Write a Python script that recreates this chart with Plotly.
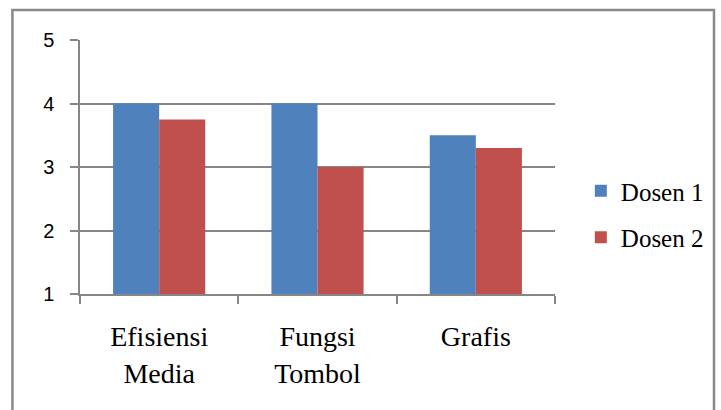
import plotly.graph_objects as go

# Chart data
categories = ["Efisiensi<br>Media", "Fungsi<br>Tombol", "Grafis"]
dosen_1 = [4.0, 4.0, 3.5]
dosen_2 = [3.75, 3.0, 3.3]
y_ticks = [1, 2, 3, 4, 5]

BLUE = "#4F81BD"
RED = "#C0504D"
GREY = "#868686"

fig = go.Figure()
fig.add_trace(go.Bar(name="Dosen 1", x=categories, y=dosen_1, marker_color=BLUE,
                     marker_line_width=0, legendgroup="d1"))
fig.add_trace(go.Bar(name="Dosen 2", x=categories, y=dosen_2, marker_color=RED,
                     marker_line_width=0, legendgroup="d2"))

# plot area spans x 80..558, y 40..294 px
L, R, T, B = 80, 558, 40, 294
W, H = 721, 410

def px_x(x):
    return (x - L) / (R - L)

def px_y(y):
    return (B - y) / (B - T)

fig.update_layout(
    width=W, height=H,
    margin=dict(l=L, r=W - R, t=T, b=H - B, pad=0),
    paper_bgcolor="white", plot_bgcolor="white",
    barmode="group", bargap=0.418, bargroupgap=0,
    showlegend=True,
    legend=dict(
        x=px_x(584), y=px_y(168), xanchor="left", yanchor="top",
        font=dict(family="Liberation Serif", size=25, color="black"),
        traceorder="grouped", tracegroupgap=11,
        bgcolor="rgba(0,0,0,0)", borderwidth=0,
    ),
    xaxis=dict(
        type="category",
        showline=True, linecolor=GREY, linewidth=1.5,
        ticks="outside", ticklen=8, tickcolor=GREY, tickwidth=1.5,
        tickson="boundaries",
        showgrid=False,
        tickfont=dict(family="Liberation Serif", size=28, color="black"),
        ticklabelstandoff=17,
    ),
    yaxis=dict(
        range=[1, 5], tickmode="array", tickvals=y_ticks,
        ticktext=[str(v) for v in y_ticks],
        showline=True, linecolor=GREY, linewidth=1.5,
        ticks="outside", ticklen=8, tickcolor=GREY, tickwidth=1.5,
        showgrid=True, gridcolor=GREY, gridwidth=1.5,
        zeroline=False,
        tickfont=dict(family="Liberation Sans", size=20, color="black"),
        ticklabelstandoff=12,
    ),
    shapes=[
        dict(type="rect", xref="paper", yref="paper",
             x0=px_x(12), x1=px_x(718), y0=px_y(10), y1=px_y(430),
             line=dict(color="#8a8a8a", width=2.5), fillcolor="rgba(0,0,0,0)",
             layer="below"),
    ],
)

fig.write_html("out.html")
